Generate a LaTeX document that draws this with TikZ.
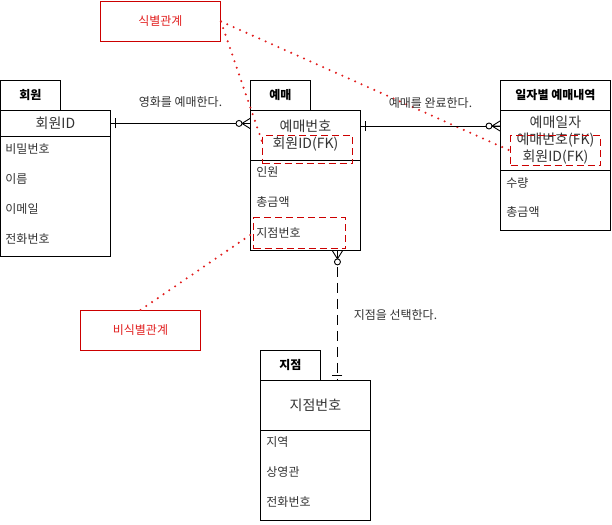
\documentclass[tikz,border=0pt]{standalone}
\usepackage{fontspec}
\setmainfont{Noto Sans CJK KR}
\usetikzlibrary{calc}
\definecolor{erred}{RGB}{204,0,0}
\definecolor{hintred}{RGB}{225,30,30}
\tikzset{
  tabbox/.style={draw, anchor=north west, minimum width=60pt, minimum height=30pt, inner sep=0pt, font=\fontsize{12}{14}\selectfont\bfseries},
  keybox/.style={draw, anchor=north west, minimum width=110pt, inner sep=0pt, align=center, text=black!80, font=\fontsize{14}{17}\selectfont},
  attrbox/.style={draw, anchor=north west, minimum width=110pt, inner sep=0pt},
  attr/.style={anchor=west, inner sep=0pt, text=black!80, font=\fontsize{12}{14}\selectfont},
  fkbox/.style={draw=erred, dash pattern=on 7pt off 4pt, line width=1.1pt, anchor=north west, inner sep=0pt},
  notebox/.style={draw=erred, text=hintred, minimum width=120pt, minimum height=40pt, anchor=north west, font=\fontsize{12}{14}\selectfont},
  hint/.style={hintred, line width=2.3pt, dash pattern=on 0pt off 7pt, line cap=round},
  rel/.style={text=black!80, font=\fontsize{12}{14}\selectfont},
  zeromany/.pic={
    \draw (-8,0) -- (0,-5) (-8,0) -- (0,0) (-8,0) -- (0,5);
    \draw[fill=white] (-11,0) circle (3pt);
  },
  one/.pic={
    \draw (-5,-5) -- (-5,5);
  }
}
\begin{document}
\begin{tikzpicture}[x=1pt, y=-1pt, line width=0.9pt, font=\fontsize{12}{14}\selectfont]
\useasboundingbox (0,0) rectangle (612,524);

% 회원
\node[tabbox] (membertab) at (0,80) {회원};
\node[keybox, minimum height=26pt] (memberkey) at (0,110) {회원ID};
\node[attrbox, minimum height=120pt] (memberattr) at (0,136) {};
\node[attr] (member1) at (5,149) {비밀번호};
\node[attr] (member2) at (5,179) {이름};
\node[attr] (member3) at (5,209) {이메일};
\node[attr] (member4) at (5,239) {전화번호};

% 예매
\node[tabbox] (restab) at (250,80) {예매};
\node[keybox, minimum height=50pt] (reskey) at (250,110) {예매번호\\회원ID(FK)};
\node[attrbox, minimum height=90pt] (resattr) at (250,160) {};
\node[attr] (res1) at (256,172) {인원};
\node[attr] (res2) at (256,202) {총금액};
\node[attr] (res3) at (256,233) {지점번호};

% 일자별 예매내역
\node[tabbox, minimum width=110pt] (datetab) at (500,80) {일자별 예매내역};
\node[keybox, minimum height=60pt] (datekey) at (500,110) {예매일자\\예매번호(FK)\\회원ID(FK)};
\node[attrbox, minimum height=60pt] (dateattr) at (500,170) {};
\node[attr] (date1) at (506,183) {수량};
\node[attr] (date2) at (506,212) {총금액};

% 지점
\node[tabbox] (branchtab) at (260,350) {지점};
\node[keybox, minimum height=50pt] (branchkey) at (260,380) {지점번호};
\node[attrbox, minimum height=90pt] (branchattr) at (260,430) {};
\node[attr] (branch1) at (266,442) {지역};
\node[attr] (branch2) at (266,472) {상영관};
\node[attr] (branch3) at (266,502) {전화번호};

% FK 표시
\node[fkbox, minimum width=90pt, minimum height=28pt] (resfk) at (262,135) {};
\node[fkbox, minimum width=92pt, minimum height=31pt] (branchfk) at (253,217) {};
\node[fkbox, minimum width=90pt, minimum height=30pt] (datefk) at (510,135) {};

% 관계 메모
\node[notebox] (ident) at (100,1) {식별관계};
\node[notebox] (nonident) at (80,310) {비식별관계};
\draw[hint] (ident.east) -- (resfk.170);
\draw[hint] (ident.east) -- (datefk.west);
\draw[hint] (nonident.north) -- (branchfk.west);

% 관계선
\draw (memberkey.east) -- (memberkey.east -| reskey.west) node[rel, midway, yshift=21pt]{영화를 예매한다.};
\path (memberkey.east) pic[rotate=180]{one} (memberkey.east -| reskey.west) pic{zeromany};

\coordinate (resout) at ([yshift=-16pt]reskey.north east);
\draw (resout) -- (resout -| datekey.west) node[rel, midway, yshift=23pt]{예매를 완료한다.};
\path (resout) pic[rotate=180]{one} (resout -| datekey.west) pic{zeromany};

\coordinate (resdown) at ([xshift=32pt]resattr.south);
\draw[dash pattern=on 10pt off 6pt] (resdown) -- (resdown |- branchkey.north) node[rel, midway, xshift=58pt]{지점을 선택한다.};
\path (resdown) pic[rotate=90]{zeromany} (resdown |- branchkey.north) pic[rotate=-90]{one};
\end{tikzpicture}
\end{document}
